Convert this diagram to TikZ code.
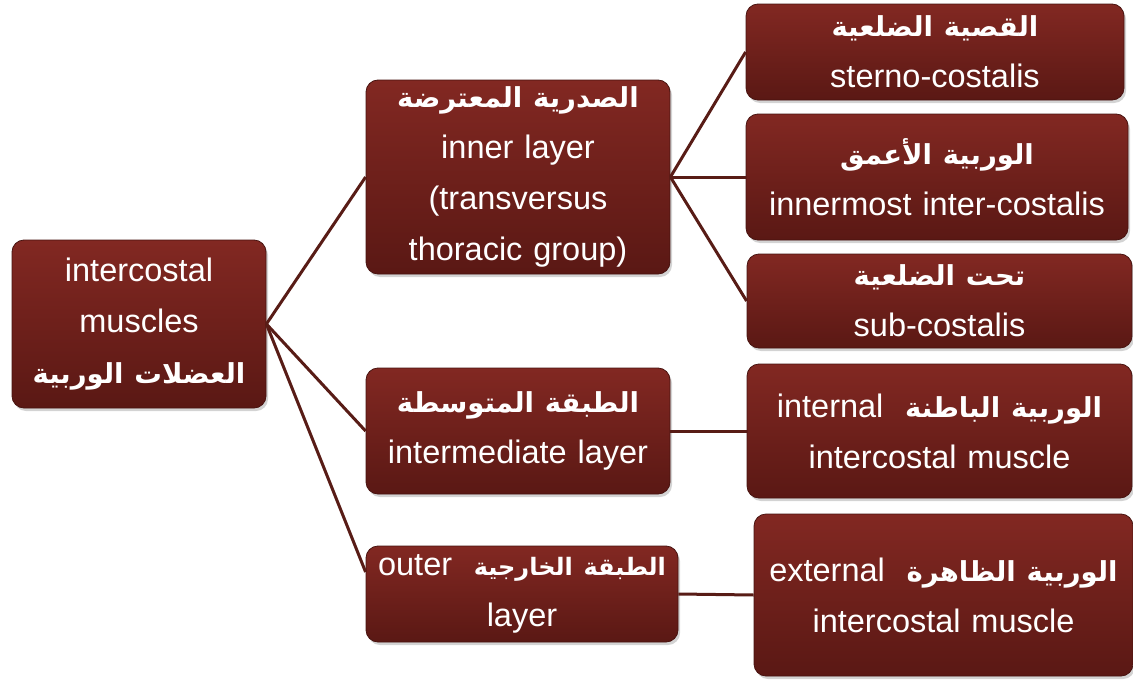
\documentclass[tikz,border=0pt]{standalone}
\usepackage{fontspec}
\setmainfont{Liberation Sans}
\newfontfamily\ar[Script=Arabic]{DejaVu Sans}
\TeXXeTstate=1
\usetikzlibrary{shadows,calc}
\definecolor{boxtop}{RGB}{130,40,34}
\definecolor{boxbot}{RGB}{90,24,20}
\definecolor{linec}{RGB}{88,28,22}
\newcommand{\AR}[1]{{\ar\bfseries\fontsize{27.5}{51}\selectfont\beginR #1\endR}}
\newcommand{\ARL}[3][27.5]{\makebox[0pt][c]{\ar\bfseries\fontsize{#1}{51}\selectfont\beginR #2\ \ {\rmfamily\mdseries\fontsize{32.5}{51}\selectfont\beginL #3\endL}\endR}}
\tikzset{
  box/.style 2 args={rounded corners=12pt, top color=boxtop, bottom color=boxbot,
    draw=boxbot!80!black, line width=0.8pt, drop shadow={opacity=0.35, shadow xshift=2pt, shadow yshift=-3pt},
    text=white, align=center, inner sep=0pt, text width=#1, minimum height=#2,
    font=\fontsize{32.5}{51}\selectfont},
  conn/.style={draw=linec, line width=3pt}
}
\begin{document}
\begin{tikzpicture}[x=1pt,y=-1pt]
\useasboundingbox (0,0) rectangle (1133,680);
\node[box={254pt}{168pt}] (root) at (139,324)
  {intercostal\\muscles\\\AR{العضلات الوربية}};
\node[box={304pt}{194pt}] (inner) at (518,177)
  {\AR{الصدرية المعترضة}\\inner layer\\(transversus\\thoracic group)};
\node[box={304pt}{126pt}] (mid) at (518,431)
  {\AR{الطبقة المتوسطة}\\intermediate layer};
\node[box={312pt}{96pt}] (outer) at (522,594)
  {\ARL[24]{الطبقة الخارجية}{outer}\\layer};
\node[box={378pt}{96pt}] (sterno) at (935,52)
  {\AR{القصية الضلعية}\\sterno-costalis};
\node[box={382pt}{126pt}] (innermost) at (937,177)
  {\AR{الوربية الأعمق}\\innermost inter-costalis};
\node[box={385pt}{94pt}] (sub) at (939.5,301)
  {\AR{تحت الضلعية}\\sub-costalis};
\node[box={385pt}{134pt}] (internal) at (939.5,431)
  {\ARL{الوربية الباطنة}{internal}\\intercostal muscle};
\node[box={379pt}{162pt}] (external) at (943.5,595)
  {\ARL{الوربية الظاهرة}{external}\\intercostal muscle};
\draw[conn] (root.east) -- (inner.west);
\draw[conn] (root.east) -- (mid.west);
\draw[conn] (root.east) -- ($(outer.west)+(0,-22)$);
\draw[conn] (inner.east) -- (sterno.west);
\draw[conn] (inner.east) -- (innermost.west);
\draw[conn] (inner.east) -- (sub.west);
\draw[conn] (mid.east) -- (internal.west);
\draw[conn] (outer.east) -- (external.west);
\end{tikzpicture}
\end{document}
